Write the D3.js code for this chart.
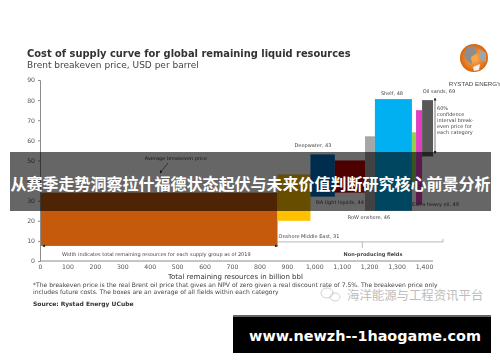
<!DOCTYPE html>
<html>
<head>
<meta charset="utf-8">
<script src="https://cdn.jsdelivr.net/npm/d3@7"></script>
<style>
  html, body { margin: 0; padding: 0; background: #fff; }
  svg { display: block; }
  text { font-family: "DejaVu Sans", sans-serif; }
  .axis path, .axis line { stroke: #8c8c8c; }
  .axis text { fill: #555; font-size: 6.2px; font-family: "DejaVu Sans", sans-serif; }
  .note { fill: #444; font-size: 5px; }
</style>
</head>
<body>
<div id="chart-element"></div>
<script>
const categories = ["Producing", "Onshore Middle East", "Deepwater", "NA tight liquids", "RoW onshore", "Shelf", "Other", "Extra heavy oil", "Oil sands"];
const resources = [866, 120, 89, 110, 36, 135, 15, 22, 40];
const lowPrice = [7.5, 20, 32, 34, 25, 25, 37, 28, 52];
const highPrice = [34, 43, 53, 50, 62, 80.5, 64, 75, 80];
const boxColors = ["#c55a11", "#ffc000", "#0070c0", "#c00000", "#a6a6a6", "#00b0f0", "#92d050", "#e040c0", "#595959"];
const xTicks = d3.range(0, 1500, 100);
const yTicks = d3.range(0, 100, 10);
const confidenceLines = ["60%", "confidence", "interval break-", "even price for", "each category"];
const footnotes = [
  "*The breakeven price is the real Brent oil price that gives an NPV of zero given a real discount rate of 7.5%. The breakeven price only",
  "includes future costs. The boxes are an average of all fields within each category"
];

const width = 500, height = 362;
const xScale = d3.scaleLinear().domain([0, 1400]).range([40, 424]);
const yScale = d3.scaleLinear().domain([0, 90]).range([261, 80]);

const svg = d3.select("#chart-element").append("svg")
  .attr("width", width)
  .attr("height", height);

const defs = svg.append("defs");
defs.append("filter").attr("id", "soft")
  .attr("filterUnits", "userSpaceOnUse")
  .attr("x", 0).attr("y", 0).attr("width", width).attr("height", height)
  .append("feGaussianBlur").attr("stdDeviation", 0.45);
const logoGrad = defs.append("radialGradient").attr("id", "logoGrad");
logoGrad.append("stop").attr("offset", "20%").attr("stop-color", "#f7a64a");
logoGrad.append("stop").attr("offset", "100%").attr("stop-color", "#d9640f");
defs.append("marker").attr("id", "head")
  .attr("viewBox", "0 0 6 6").attr("refX", 5).attr("refY", 3)
  .attr("markerWidth", 5).attr("markerHeight", 5).attr("orient", "auto-start-reverse")
  .append("path").attr("d", "M0,0L6,3L0,6Z").attr("fill", "#222");

const chart = svg.append("g").attr("filter", "url(#soft)");

chart.append("text").attr("x", 27).attr("y", 57)
  .attr("font-weight", "bold").attr("font-size", 9.9).attr("fill", "#333")
  .text("Cost of supply curve for global remaining liquid resources");
chart.append("text").attr("x", 27).attr("y", 68)
  .attr("font-size", 9).attr("fill", "#444")
  .text("Brent breakeven price, USD per barrel");

// boxes are laid end to end, so each one starts where the last stopped
const starts = d3.cumsum(resources).map((d, i) => d - resources[i]);
chart.append("g").selectAll("rect")
  .data(categories)
  .join("rect")
  .attr("x", (d, i) => xScale(starts[i]))
  .attr("width", (d, i) => xScale(starts[i] + resources[i]) - xScale(starts[i]))
  .attr("y", (d, i) => yScale(highPrice[i]))
  .attr("height", (d, i) => yScale(lowPrice[i]) - yScale(highPrice[i]))
  .attr("fill", (d, i) => boxColors[i]);

const xAxis = d3.axisBottom(xScale).tickValues(xTicks).tickSize(0).tickPadding(4)
  .tickFormat(d3.format(","));
const gx = chart.append("g").attr("class", "axis").attr("transform", "translate(0,261)").call(xAxis);
gx.select(".domain").attr("d", "M40,0H433");

const yAxis = d3.axisLeft(yScale).tickValues(yTicks).tickSize(2).tickPadding(3);
chart.append("g").attr("class", "axis").attr("transform", "translate(40,0)").call(yAxis);

const labels = [
  ["Average breakeven price", 176, 160, "middle"],
  ["Width indicates total remaining resources for each supply group as of 2019", 62, 256, "start"],
  ["Onshore Middle East, 31", 278.5, 238, "start"],
  ["Deepwater, 43", 313, 147, "middle"],
  ["NA tight liquids, 44", 316, 204, "start"],
  ["RoW onshore, 46", 369, 219, "middle"],
  ["Shelf, 48", 392, 95, "middle"],
  ["Oil sands, 69", 439, 93, "middle"],
  ["Extra heavy oil, 49", 412, 206, "start"]
];
chart.append("g").selectAll("text")
  .data(labels)
  .join("text")
  .attr("class", "note")
  .attr("x", d => d[1])
  .attr("y", d => d[2])
  .attr("text-anchor", d => d[3])
  .text(d => d[0]);

chart.append("text").attr("class", "note").attr("x", 373).attr("y", 256)
  .attr("text-anchor", "middle").attr("font-weight", "bold").attr("fill", "#333")
  .text("Non-producing fields");

const leaderLine = (x1, y1, x2, y2, head) => chart.append("line")
  .attr("x1", x1).attr("y1", y1).attr("x2", x2).attr("y2", y2)
  .attr("stroke", "#333").attr("stroke-width", 0.6)
  .attr("marker-end", head ? "url(#head)" : null);

leaderLine(168, 163, 160, 173, true);
leaderLine(xScale(20), yScale(7.5), xScale(10), yScale(7.5), true);
leaderLine(xScale(856), yScale(7.5), xScale(866), yScale(7.5), true);

// non-producing bracket
chart.append("path")
  .attr("d", `M${xScale(866)},${yScale(9.5)}H443V${yScale(11)}M${xScale(1175)},${yScale(9.5)}V${yScale(6.5)}`)
  .attr("fill", "none").attr("stroke", "#999").attr("stroke-width", 0.7);

// confidence interval arrow
chart.append("line")
  .attr("x1", 435).attr("x2", 435).attr("y1", yScale(81)).attr("y2", yScale(53.5))
  .attr("stroke", "#222").attr("stroke-width", 0.6)
  .attr("marker-start", "url(#head)").attr("marker-end", "url(#head)");

chart.append("g").selectAll("text")
  .data(confidenceLines)
  .join("text")
  .attr("class", "note")
  .attr("x", 437)
  .attr("y", (d, i) => 110 + i * 6.1)
  .text(d => d);

chart.append("text").attr("x", 168).attr("y", 279)
  .attr("font-size", 7).attr("fill", "#333")
  .text("Total remaining resources in billion bbl");

chart.append("g").selectAll("text")
  .data(footnotes)
  .join("text")
  .attr("x", 33)
  .attr("y", (d, i) => 287 + i * 7)
  .attr("font-size", 6.05).attr("fill", "#444")
  .text(d => d);

chart.append("text").attr("x", 33).attr("y", 306)
  .attr("font-size", 6).attr("font-weight", "bold").attr("fill", "#333")
  .text("Source: Rystad Energy UCube");

// logo
const logo = chart.append("g").attr("transform", "translate(474,58)");
logo.append("circle").attr("r", 14).attr("fill", "url(#logoGrad)");
logo.append("path").attr("d", "M-7,-11L1,-12L3,-5L-3,-1L-2,6L-7,3L-10,-3Z").attr("fill", "#8d8d8d");
logo.append("path").attr("d", "M5,-9L12,-5L12,4L7,3L5,-2Z").attr("fill", "#a3a3a3");
logo.append("path").attr("d", "M-1,9L6,6L5,12L0,13Z").attr("fill", "#f0f0f0");
chart.append("text").attr("x", 475).attr("y", 85.5).attr("text-anchor", "middle")
  .attr("font-family", "Liberation Sans").style("font-family", "'Liberation Sans'")
  .attr("font-size", 6.2).attr("fill", "#444")
  .text("RYSTAD ENERGY");

// watermark
const mark = svg.append("g").attr("fill", "none").attr("stroke", "#c9c9c9").attr("stroke-width", 0.9);
mark.append("ellipse").attr("cx", 327).attr("cy", 293).attr("rx", 6).attr("ry", 5);
mark.append("ellipse").attr("cx", 335).attr("cy", 297).attr("rx", 5).attr("ry", 4);
svg.append("text").attr("x", 347).attr("y", 300)
  .style("font-family", "'Noto Sans CJK SC'").attr("font-size", 12.4).attr("fill", "#bdbdbd")
  .text("海洋能源与工程资讯平台");

// overlay banners sit on top of the chart
svg.append("rect").attr("x", 10).attr("y", 152).attr("width", 481).attr("height", 59)
  .attr("fill", "#000").attr("fill-opacity", 0.6);
svg.append("text").attr("x", 250.5).attr("y", 190).attr("text-anchor", "middle")
  .style("font-family", "'Noto Sans CJK SC'").attr("font-weight", "bold")
  .attr("font-size", 16).attr("fill", "#fff")
  .text("从赛季走势洞察拉什福德状态起伏与未来价值判断研究核心前景分析");

svg.append("rect").attr("x", 233).attr("y", 315).attr("width", 258).attr("height", 38).attr("fill", "#000");
svg.append("rect").attr("x", 233).attr("y", 315).attr("width", 258).attr("height", 2).attr("fill", "#666");
svg.append("text").attr("x", 365).attr("y", 341).attr("text-anchor", "middle")
  .attr("font-weight", "bold").attr("font-size", 14.4).attr("fill", "#fff")
  .text("www.newzh--1haogame.com");
</script>
</body>
</html>
